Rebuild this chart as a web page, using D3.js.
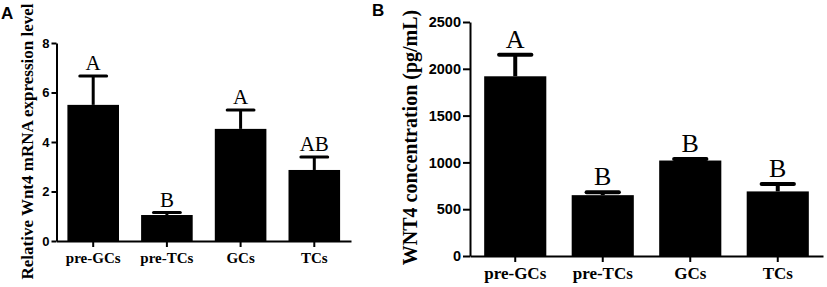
<!DOCTYPE html>
<html>
<head>
<meta charset="utf-8">
<script src="https://cdn.jsdelivr.net/npm/d3@7"></script>
<style>
  body { margin: 0; background: #fff; }
  svg { display: block; }
</style>
</head>
<body>
<div id="chart"></div>
<script>
(function() {
    var width = 827,
        height = 287;

    // data
    var categories = ["pre-GCs", "pre-TCs", "GCs", "TCs"];

    var mrnaLevel = [5.5, 1.05, 4.53, 2.87];
    var mrnaErr = [1.17, 0.1, 0.76, 0.52];
    var mrnaLetters = ["A", "B", "A", "AB"];
    var mrnaTicks = [0, 2, 4, 6, 8];

    var concLevel = [1920, 650, 1020, 690];
    var concErr = [230, 30, 15, 80];
    var concLetters = ["A", "B", "B", "B"];
    var concTicks = [0, 500, 1000, 1500, 2000, 2500];

    var svg = d3.select("#chart")
        .append("svg")
        .attr("width", width)
        .attr("height", height)

    function drawPanel(p) {
        var g = svg.append("g")

        var x = d3.scaleBand()
            .domain(categories)
            .range([p.left, p.right])
            .paddingInner(p.padIn)
            .paddingOuter(p.padOut)

        var y = d3.scaleLinear()
            .domain([0, p.max])
            .range([p.bottom, p.top])

        var rows = categories.map(function(c, i) {
            return {cat: c, v: p.values[i], e: p.errs[i], letter: p.letters[i]}
        })

        // bars
        g.selectAll(".bar")
            .data(rows)
            .enter().append("rect")
            .attr("class", "bar")
            .attr("x", function(d) { return x(d.cat) })
            .attr("width", x.bandwidth())
            .attr("y", function(d) { return y(d.v) })
            .attr("height", function(d) { return y(0) - y(d.v) })
            .attr("fill", "#000")

        // error bars (upper only)
        g.selectAll(".err")
            .data(rows)
            .enter().append("line")
            .attr("class", "err")
            .attr("x1", function(d) { return x(d.cat) + x.bandwidth() / 2 })
            .attr("x2", function(d) { return x(d.cat) + x.bandwidth() / 2 })
            .attr("y1", function(d) { return y(d.v) })
            .attr("y2", function(d) { return y(d.v + d.e) })
            .attr("stroke", "#000")
            .attr("stroke-width", p.errW)

        g.selectAll(".cap")
            .data(rows)
            .enter().append("line")
            .attr("class", "cap")
            .attr("x1", function(d) { return x(d.cat) + x.bandwidth() * 0.24 })
            .attr("x2", function(d) { return x(d.cat) + x.bandwidth() * 0.76 })
            .attr("y1", function(d) { return y(d.v + d.e) })
            .attr("y2", function(d) { return y(d.v + d.e) })
            .attr("stroke", "#000")
            .attr("stroke-width", p.errW)
            .attr("stroke-linecap", "round")

        // significance letters
        g.selectAll(".sig")
            .data(rows)
            .enter().append("text")
            .attr("class", "sig")
            .attr("x", function(d) { return x(d.cat) + x.bandwidth() / 2 })
            .attr("y", function(d) { return y(d.v + d.e) - p.letterGap })
            .attr("text-anchor", "middle")
            .style("font-family", "'Liberation Serif', 'Times New Roman', serif")
            .style("font-size", p.letterSize + "px")
            .text(function(d) { return d.letter })

        // axes
        var yAxis = g.append("g")
            .attr("transform", "translate(" + p.left + ",0)")
            .call(d3.axisLeft(y).tickValues(p.ticks).tickFormat(d3.format("d"))
                .tickSize(p.tickLen).tickSizeOuter(0).tickPadding(p.tickPad))
        yAxis.selectAll("text")
            .style("font-family", "'Liberation Sans', Arial, sans-serif")
            .style("font-weight", "bold")
            .style("font-size", p.tickSize + "px")
            .attr("fill", "#000")

        var xAxis = g.append("g")
            .attr("transform", "translate(0," + p.bottom + ")")
            .call(d3.axisBottom(x).tickSize(6).tickSizeOuter(0).tickPadding(p.xPad))
        xAxis.selectAll("text")
            .style("font-family", "'Liberation Serif', 'Times New Roman', serif")
            .style("font-weight", "bold")
            .style("font-size", p.catSize + "px")
            .attr("fill", "#000")

        g.selectAll(".domain, .tick line")
            .attr("stroke", "#000")
            .attr("stroke-width", 2)

        // y title
        g.append("text")
            .attr("transform", "translate(" + p.titleX + "," + p.titleY + ") rotate(-90)")
            .attr("text-anchor", "middle")
            .style("font-family", "'Liberation Serif', 'Times New Roman', serif")
            .style("font-weight", "bold")
            .style("font-size", p.titleSize + "px")
            .text(p.title)

        // panel letter
        g.append("text")
            .attr("x", p.tagX)
            .attr("y", p.tagY)
            .style("font-family", "'Liberation Sans', Arial, sans-serif")
            .style("font-weight", "bold")
            .style("font-size", "17px")
            .text(p.tag)
    }

    drawPanel({
        values: mrnaLevel, errs: mrnaErr, letters: mrnaLetters, ticks: mrnaTicks, max: 8,
        left: 56.5, right: 351, top: 43, bottom: 241, padIn: 0.3, padOut: 0.148,
        errW: 3, letterGap: 6, letterSize: 21, tickLen: 5, tickPad: 2, tickSize: 13,
        xPad: 5, catSize: 15, title: "Relative Wnt4 mRNA expression level",
        titleX: 33, titleY: 141.5, titleSize: 17, tag: "A", tagX: 1, tagY: 19
    })

    drawPanel({
        values: concLevel, errs: concErr, letters: concLetters, ticks: concTicks, max: 2500,
        left: 470, right: 823, top: 22, bottom: 256, padIn: 0.29, padOut: 0.162,
        errW: 4, letterGap: 7, letterSize: 26, tickLen: 7, tickPad: 2, tickSize: 14.5,
        xPad: 5, catSize: 17, title: "WNT4 concentration (pg/mL)",
        titleX: 417, titleY: 137.5, titleSize: 20, tag: "B", tagX: 372, tagY: 16
    })
})();
</script>
</body>
</html>
